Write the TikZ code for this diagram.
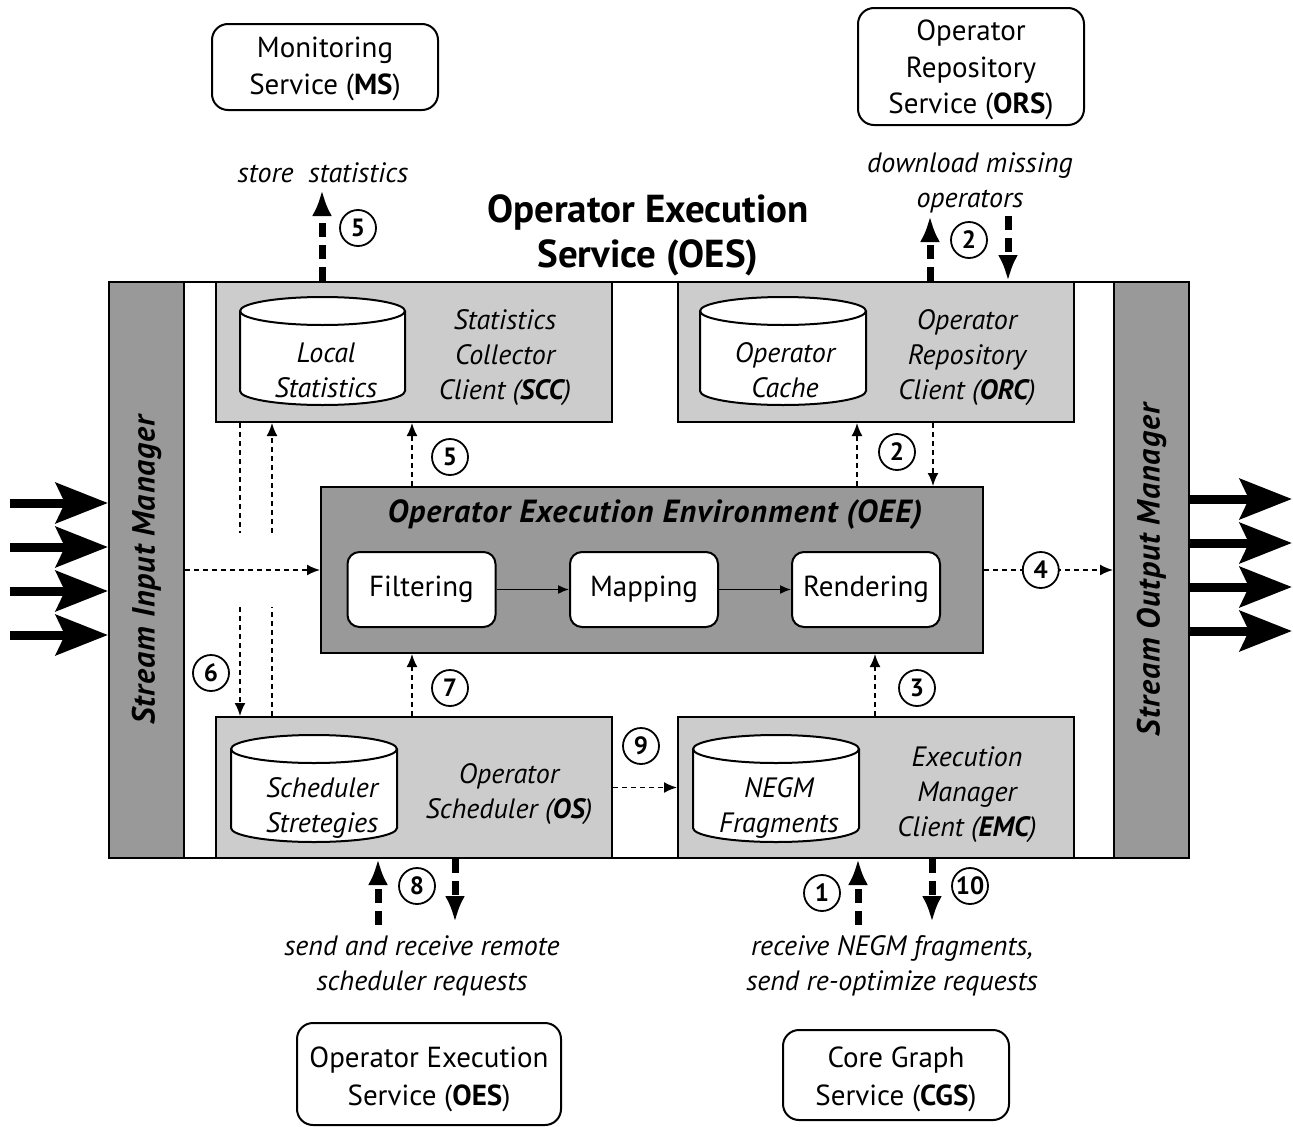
\documentclass[tikz,border=0pt]{standalone}
\usepackage{fontspec}
\setmainfont{PT Sans}
\usetikzlibrary{arrows.meta}
\definecolor{boxgray}{HTML}{CCCCCC}
\definecolor{mgrgray}{HTML}{999999}

% database cylinder: centre x, top y, bottom y, x radius, y radius
\newcommand\dbcyl[5]{%
  \draw[line width=2pt, fill=white] ({#1-#4},{#2+#5}) -- ({#1-#4},{#3-#5})
    arc[start angle=180,end angle=360,x radius=#4pt,y radius=#5pt]
    -- ({#1+#4},{#2+#5})
    arc[start angle=0,end angle=180,x radius=#4pt,y radius=#5pt] -- cycle;
  \draw[line width=2pt] ({#1-#4},{#2+#5})
    arc[start angle=180,end angle=360,x radius=#4pt,y radius=#5pt];}

\begin{document}
\begin{tikzpicture}[x=1pt,y=-1pt,
  svc/.style={draw, line width=2pt, rounded corners=16pt, fill=white, align=center, inner sep=0pt, font=\fontsize{29}{37}\selectfont},
  comp/.style={draw, line width=2pt, fill=boxgray, inner sep=0pt, anchor=north west},
  mgr/.style={draw, line width=2pt, fill=mgrgray, inner sep=0pt, anchor=north west},
  itxt/.style={font=\itshape\fontsize{28}{35}\selectfont, align=center, inner sep=0pt},
  stage/.style={draw, line width=2pt, rounded corners=12pt, fill=white, minimum width=148pt, minimum height=75pt, inner sep=0pt, font=\fontsize{29}{30}\selectfont},
  num/.style={circle, draw, solid, line width=1.8pt, fill=white, minimum size=36pt, inner sep=0pt, font=\bfseries\fontsize{25}{25}\selectfont},
  flow/.style={line width=1.8pt, dash pattern=on 5pt off 4pt, -{Latex[length=13pt,width=11pt]}},
  flowline/.style={line width=1.8pt, dash pattern=on 5pt off 4pt},
  remote/.style={line width=7pt, dash pattern=on 14pt off 8pt, -{Latex[length=26pt,width=20pt]}},
  stream/.style={line width=9pt, -{Stealth[length=52pt,width=40pt,inset=9pt]}},
  pipe/.style={line width=1.5pt, -{Latex[length=11pt,width=9pt]}},
  mgrtxt/.style={rotate=90, inner sep=0pt, font=\bfseries\itshape\fontsize{32}{32}\selectfont\addfontfeature{LetterSpace=3}}]
\useasboundingbox (0,0) rectangle (1293,1127);

% external services
\node[svc, minimum width=226pt, minimum height=86pt] (ms) at (325,67) {};
\node[align=center, inner sep=0pt, font=\fontsize{29}{37}\selectfont] (mstxt) at (325,69) {Monitoring\\Service (\textbf{MS})};
\node[svc, minimum width=226pt, minimum height=117pt] (ors) at (971,66.5) {};
\node[align=center, inner sep=0pt, font=\fontsize{29}{36.5}\selectfont] (orstxt) at (971,70) {Operator\\Repository\\Service (\textbf{ORS})};
\node[svc, minimum width=264pt, minimum height=102pt] (oesb) at (429,1074) {};
\node[align=center, inner sep=0pt, font=\fontsize{29}{38}\selectfont] (oesbtxt) at (429,1079) {Operator Execution\\Service (\textbf{OES})};
\node[svc, minimum width=226pt, minimum height=90pt] (cgs) at (896,1075) {};
\node[align=center, inner sep=0pt, font=\fontsize{29}{38}\selectfont] (cgstxt) at (896,1079) {Core Graph\\Service (\textbf{CGS})};

% service title
\node[align=center, inner sep=0pt, font=\bfseries\fontsize{39}{45}\selectfont] (title) at (648,235) {Operator Execution\\Service (OES)};

% service frame and its components
\node[draw, line width=2.4pt, fill=white, anchor=north west, minimum width=1080pt, minimum height=576pt, inner sep=0pt] (oes) at (108,281) {};
\node[mgr, minimum width=75pt, minimum height=576pt] (sim) at (108,281) {};
\node[mgr, minimum width=75pt, minimum height=576pt] (som) at (1113,281) {};
\node[mgrtxt] (simlabel) at (sim.center) {Stream Input Manager};
\node[mgrtxt] (somlabel) at (som.center) {Stream Output Manager};

\node[comp, minimum width=396pt, minimum height=140pt] (scc) at (215,281) {};
\node[comp, minimum width=396pt, minimum height=140pt] (orc) at (677,281) {};
\node[comp, minimum width=396pt, minimum height=141pt] (os) at (215,716) {};
\node[comp, minimum width=396pt, minimum height=141pt] (emc) at (677,716) {};

\node[itxt] (scctxt) at (505,358) {Statistics\\Collector\\Client (\textbf{SCC})};
\node[itxt] (orctxt) at (967,358) {Operator\\Repository\\Client (\textbf{ORC})};
\node[itxt] (ostxt) at (509,794) {Operator\\Scheduler (\textbf{OS})};
\node[itxt] (emctxt) at (967,795) {Execution\\Manager\\Client (\textbf{EMC})};

% local stores
\dbcyl{322.5}{297}{405}{82.5}{14}
\dbcyl{783}{297}{405}{83}{14}
\dbcyl{314}{735}{842}{83}{14}
\dbcyl{776}{735}{842}{83}{14}
\node[itxt] (lstat) at (326,370) {Local\\Statistics};
\node[itxt] (ocache) at (785,370) {Operator\\Cache};
\node[itxt] (sstrat) at (322,808) {Scheduler\\Stretegies};
\node[itxt] (negm) at (779,808) {NEGM\\Fragments};

% execution environment
\node[mgr, minimum width=662pt, minimum height=166pt] (oee) at (320,486) {};
\node[inner sep=0pt, font=\bfseries\itshape\fontsize{32}{32}\selectfont\addfontfeature{LetterSpace=3}] (oeetitle) at (655,515) {Operator Execution Environment (OEE)};
\node[stage] (filt) at (421.5,589.5) {Filtering};
\node[stage] (mapp) at (644,589.5) {Mapping};
\node[stage] (rend) at (866,589.5) {Rendering};
\draw[pipe] (filt) -- (mapp);
\draw[pipe] (mapp) -- (rend);

% stream inputs and outputs
\foreach \y [count=\i] in {503,547,591,635} {
  \coordinate (in\i) at (10,\y);
  \draw[stream] (in\i) -- (in\i -| sim.west);
}
\foreach \y [count=\i] in {499,543,587,631} {
  \coordinate (out\i) at (1292,\y);
  \draw[stream] (out\i -| som.east) -- (out\i);
}

% internal flows
\draw[flow] (sim.east) -- (oee.west);
\draw[flow] (oee.east) -- node[num, pos=0.44] (n4) {4} (som.west);

\coordinate (sxa) at (412,0);
\draw[flow] (oee.north -| sxa) -- (scc.south -| sxa);
\node[num] (n5b) at (450,457) {5};
\coordinate (oxa) at (857,0);
\coordinate (oxb) at (933,0);
\draw[flow] (oee.north -| oxa) -- (orc.south -| oxa);
\draw[flow] (orc.south -| oxb) -- (oee.north -| oxb);
\node[num] (n2b) at (897,452) {2};

\draw[flow] (os.north -| sxa) -- (oee.south -| sxa);
\node[num] (n7) at (450,688) {7};
\coordinate (exa) at (875,0);
\draw[flow] (emc.north -| exa) -- (oee.south -| exa);
\node[num] (n3) at (917,688) {3};

\coordinate (s6a) at (240,533);
\coordinate (s6b) at (240,607);
\coordinate (s6c) at (272,533);
\coordinate (s6d) at (272,607);
\draw[flowline] (scc.south -| s6a) -- (s6a);
\draw[flow] (s6b) -- (os.north -| s6b);
\draw[flow] (s6c) -- (scc.south -| s6c);
\draw[flowline] (os.north -| s6d) -- (s6d);
\node[num] (n6) at (211,673) {6};

\draw[flow] (os.east) -- (emc.west);
\node[num] (n9) at (641,746) {9};

% remote interactions
\coordinate (msend) at (322,190);
\draw[remote] (scc.north -| msend) -- (msend);
\node[num] (n5a) at (358,228) {5};
\node[itxt] (storelbl) at (323,173) {store\ \ statistics};

\coordinate (orsup) at (930,216);
\coordinate (orsdown) at (1008,216);
\draw[remote] (orc.north -| orsup) -- (orsup);
\draw[remote] (orsdown) -- (orc.north -| orsdown);
\node[num] (n2a) at (969,240) {2};
\node[itxt] (dllbl) at (970,183) {download missing\\operators};

\coordinate (osup) at (378,925);
\coordinate (osdown) at (455,922);
\draw[remote] (osup) -- (os.south -| osup);
\draw[remote] (os.south -| osdown) -- (osdown);
\node[num] (n8) at (417,886) {8};
\node[itxt] (schedlbl) at (422,966) {send and receive remote\\scheduler requests};

\coordinate (emcup) at (858,925);
\coordinate (emcdown) at (932,922);
\draw[remote] (emcup) -- (emc.south -| emcup);
\draw[remote] (emc.south -| emcdown) -- (emcdown);
\node[num] (n1) at (822,893) {1};
\node[num] (n10) at (970,886) {10};
\node[itxt] (negmlbl) at (892,966) {receive NEGM fragments,\\send re-optimize requests};
\end{tikzpicture}
\end{document}
